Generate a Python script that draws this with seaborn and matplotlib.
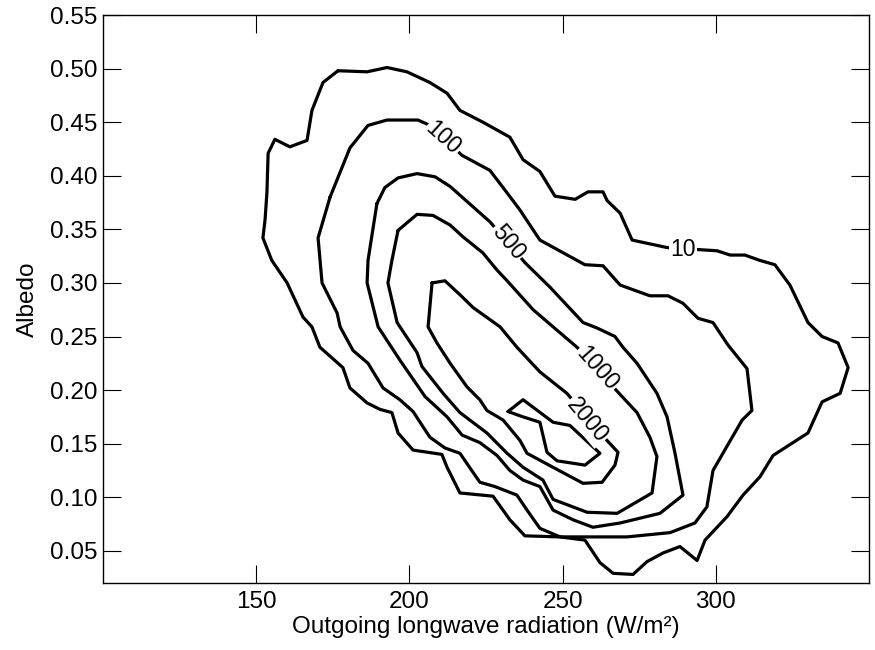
import numpy as np
import pandas as pd
import matplotlib
matplotlib.use("Agg")
import matplotlib.pyplot as plt
import seaborn as sns

# contour vertices (OLR in W/m2, albedo)
olr_10 = [176.7, 186.2, 192.7, 199.2, 206.7, 212.3, 216.5, 224.0, 232.8, 237.1, 242.6, 247.5, 254.1, 258.3,
          263.2, 264.5, 268.8, 272.7, 284.1, 294.9, 300.4, 304.7, 309.5, 314.4, 319.3, 324.2, 330.1, 334.7,
          339.9, 343.2, 340.6, 334.7, 330.1, 318.7, 314.4, 308.9, 303.7, 296.5, 293.9, 288.3, 282.8, 277.6,
          273.0, 266.5, 262.2, 257.3, 249.2, 237.7, 232.8, 227.3, 216.5, 212.3, 210.6, 201.2, 196.3, 194.3,
          190.4, 186.2, 180.6, 178.3, 170.8, 168.2, 165.3, 160.1, 155.1, 152.2, 152.9, 153.5, 153.9, 156.1,
          161.0, 166.6, 168.2, 171.8]
alb_10 = [0.498, 0.497, 0.501, 0.497, 0.487, 0.477, 0.461, 0.450, 0.436, 0.415, 0.404, 0.381, 0.378, 0.385,
          0.385, 0.377, 0.365, 0.340, 0.333, 0.331, 0.330, 0.326, 0.326, 0.321, 0.317, 0.298, 0.263, 0.250,
          0.244, 0.221, 0.197, 0.189, 0.160, 0.139, 0.119, 0.102, 0.082, 0.060, 0.041, 0.054, 0.048, 0.040,
          0.028, 0.029, 0.039, 0.060, 0.063, 0.064, 0.079, 0.101, 0.104, 0.128, 0.140, 0.144, 0.160, 0.179,
          0.182, 0.188, 0.202, 0.221, 0.240, 0.259, 0.268, 0.300, 0.321, 0.342, 0.359, 0.384, 0.421, 0.434,
          0.427, 0.433, 0.461, 0.487]

olr_100 = [174.1, 180.6, 186.5, 192.7, 202.8, 206.7, 217.2, 226.3, 231.9, 236.1, 242.6, 257.3, 263.2, 268.8,
           278.5, 284.4, 289.3, 294.2, 299.1, 304.0, 310.2, 311.8, 308.6, 299.1, 297.1, 293.2, 285.1, 271.0,
           249.2, 242.6, 238.4, 235.1, 227.9, 223.0, 216.5, 211.6, 206.7, 201.2, 196.9, 191.4, 186.5, 181.6,
           177.4, 176.4, 171.5, 170.2]
alb_100 = [0.380, 0.426, 0.447, 0.452, 0.452, 0.447, 0.419, 0.405, 0.384, 0.368, 0.340, 0.317, 0.316, 0.298,
           0.288, 0.288, 0.281, 0.267, 0.263, 0.242, 0.220, 0.181, 0.172, 0.125, 0.091, 0.076, 0.067, 0.063,
           0.063, 0.071, 0.088, 0.102, 0.110, 0.114, 0.141, 0.146, 0.156, 0.180, 0.191, 0.202, 0.225, 0.237,
           0.259, 0.272, 0.300, 0.342]

olr_500 = [189.4, 192.0, 196.3, 202.5, 208.4, 213.3, 226.3, 237.7, 245.9, 256.7, 261.2, 267.1, 269.7, 274.3,
           280.8, 284.1, 286.7, 289.3, 281.8, 268.8, 259.9, 253.4, 246.9, 242.6, 237.1, 232.8, 228.6, 223.0,
           217.2, 212.3, 205.1, 196.9, 189.8, 186.2, 186.5]
alb_500 = [0.374, 0.389, 0.398, 0.402, 0.399, 0.390, 0.357, 0.319, 0.296, 0.263, 0.258, 0.250, 0.240, 0.225,
           0.197, 0.175, 0.141, 0.102, 0.085, 0.076, 0.072, 0.079, 0.088, 0.110, 0.116, 0.125, 0.139, 0.151,
           0.158, 0.175, 0.194, 0.228, 0.259, 0.300, 0.321]

olr_1000 = [196.3, 202.5, 207.7, 213.3, 217.5, 224.0, 228.6, 231.9, 240.4, 246.9, 254.7, 268.1, 274.3, 278.5,
            280.8, 279.2, 267.8, 258.0, 246.9, 243.6, 237.1, 231.9, 225.3, 216.5, 211.0, 204.1, 202.5, 196.0,
            193.0, 194.3]
alb_1000 = [0.349, 0.364, 0.363, 0.354, 0.343, 0.328, 0.312, 0.302, 0.275, 0.259, 0.240, 0.198, 0.179, 0.156,
            0.138, 0.104, 0.085, 0.086, 0.098, 0.116, 0.128, 0.141, 0.160, 0.179, 0.197, 0.222, 0.235, 0.263,
            0.300, 0.321]

olr_2000 = [207.4, 211.6, 216.5, 220.8, 229.6, 235.1, 242.6, 251.4, 264.5, 268.1, 267.1, 262.9, 256.7, 247.5,
            238.4, 236.1, 230.6, 225.3, 223.0, 218.8, 213.3, 209.0, 206.1]
alb_2000 = [0.300, 0.302, 0.289, 0.277, 0.259, 0.240, 0.217, 0.197, 0.153, 0.142, 0.130, 0.114, 0.113, 0.127,
            0.141, 0.153, 0.172, 0.181, 0.191, 0.203, 0.225, 0.244, 0.259]

olr_peak = [232.2, 237.1, 246.9, 252.4, 262.2, 257.3, 248.2, 244.9, 242.6, 237.1]
alb_peak = [0.180, 0.191, 0.170, 0.167, 0.141, 0.130, 0.134, 0.142, 0.170, 0.175]

# inline contour labels
label_text = ["10", "100", "500", "1000", "2000"]
label_olr = [289.3, 211.0, 232.2, 261.2, 258.0]
label_alb = [0.331, 0.435, 0.338, 0.220, 0.172]
label_rot = [0, -42, -50, -48, -50]

x_ticks = [150, 200, 250, 300]
y_ticks = [0.05, 0.10, 0.15, 0.20, 0.25, 0.30, 0.35, 0.40, 0.45, 0.50, 0.55]
y_tick_labels = ["0.05", "0.10", "0.15", "0.20", "0.25", "0.30", "0.35", "0.40", "0.45", "0.50", "0.55"]

contours = {
    "10": (olr_10, alb_10),
    "100": (olr_100, alb_100),
    "500": (olr_500, alb_500),
    "1000": (olr_1000, alb_1000),
    "2000": (olr_2000, alb_2000),
    "peak": (olr_peak, alb_peak),
}

frames = []
for name, (xs, ys) in contours.items():
    # close each loop
    xs = list(xs) + [xs[0]]
    ys = list(ys) + [ys[0]]
    frames.append(pd.DataFrame({"olr": xs, "albedo": ys, "level": name}))
df = pd.concat(frames, ignore_index=True)

sns.set_theme(style="ticks", rc={"text.color": "black", "axes.labelcolor": "black",
                                 "xtick.color": "black", "ytick.color": "black"})
plt.rcParams["font.family"] = ["Liberation Sans", "DejaVu Sans"]

fig, ax = plt.subplots(figsize=(8.75, 6.5), dpi=100)
fig.subplots_adjust(left=0.1177, right=0.9931, top=0.9769, bottom=0.1031)

sns.lineplot(data=df, x="olr", y="albedo", units="level", estimator=None, sort=False,
             color="black", lw=2.3, ax=ax)

for t, x, y, r in zip(label_text, label_olr, label_alb, label_rot):
    ax.text(x, y, t, rotation=r, ha="center", va="center", fontsize=16.5, zorder=5,
            color="black", rotation_mode="anchor",
            bbox=dict(facecolor="white", edgecolor="none", pad=1.0))

ax.set_xlim(100, 350)
ax.set_ylim(0.02, 0.55)
ax.set_xticks(x_ticks)
ax.set_yticks(y_ticks)
ax.set_yticklabels(y_tick_labels)
ax.tick_params(direction="in", length=13, width=0.8, top=True, right=True,
               labelsize=17.5, colors="black")
ax.tick_params(axis="x", pad=6)
ax.tick_params(axis="y", pad=4)
for s in ax.spines.values():
    s.set_linewidth(1.0)
    s.set_color("black")

ax.set_xlabel("Outgoing longwave radiation (W/m\u00b2)", fontsize=17.5, labelpad=2, color="black")
ax.set_ylabel("Albedo", fontsize=17.5, labelpad=8, color="black")

fig.savefig("out.png", dpi=100, facecolor="white")
